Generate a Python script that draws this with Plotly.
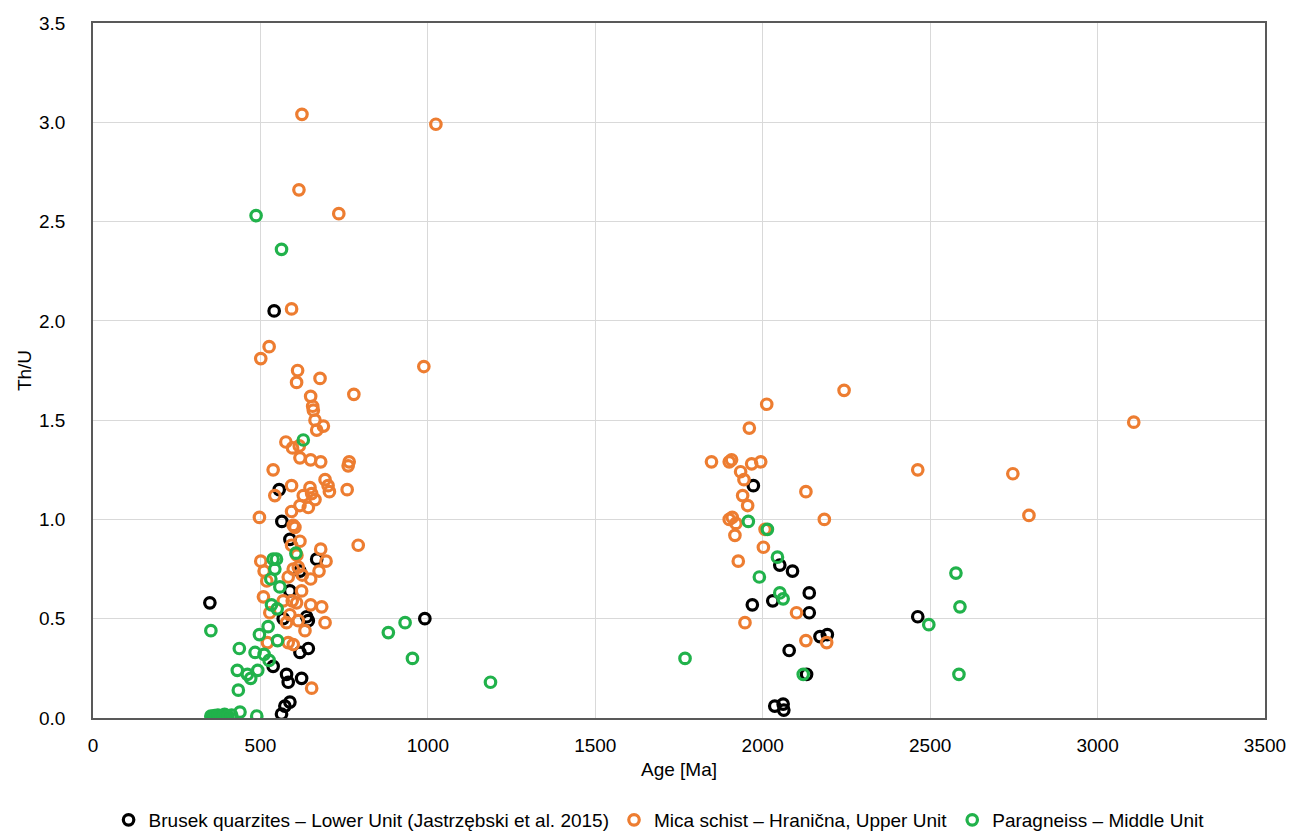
import plotly.graph_objects as go

# Brusek quarzites – Lower Unit
brusek_age = [349, 541, 556, 564, 588, 668, 618, 588, 568, 638, 643, 618, 643, 538, 578,
              583, 623, 588, 573, 563, 991, 1972, 2051, 2089, 2139, 1969, 2030, 2139, 2171,
              2193, 2079, 2131, 2036, 2061, 2063, 2463]
brusek_thu = [0.58, 2.05, 1.15, 0.99, 0.90, 0.80, 0.74, 0.64, 0.50, 0.51, 0.49, 0.33, 0.35, 0.26, 0.22,
              0.18, 0.20, 0.08, 0.06, 0.02, 0.50, 1.17, 0.77, 0.74, 0.63, 0.57, 0.59, 0.53, 0.41,
              0.42, 0.34, 0.22, 0.06, 0.07, 0.04, 0.51]

# Mica schist – Hranična, Upper Unit
mica_age = [624, 1024, 615, 734, 593, 526, 501, 611, 608, 678, 988, 779, 650, 656, 658, 663, 688, 668,
            576, 596, 616, 618, 650, 680, 765, 762, 538, 543, 593, 648, 693, 702, 706, 759, 628, 653,
            663, 618, 593, 643, 497, 598, 603, 593, 618, 680, 792, 696, 675, 650, 501, 511, 519, 583,
            598, 613, 623, 509, 568, 595, 650, 683, 608, 588, 578, 613, 633, 693, 521, 583, 598, 653,
            528, 609, 625,
            2243, 2012, 1960, 1847, 1900, 1907, 1967, 1994, 1934, 1944, 2129, 1940, 1955, 1909, 1900,
            1920, 2184, 2007, 1917, 2002, 1927, 2101, 1947, 2129, 2191, 2463, 2747, 2795, 3108]
mica_thu = [3.04, 2.99, 2.66, 2.54, 2.06, 1.87, 1.81, 1.75, 1.69, 1.71, 1.77, 1.63, 1.62, 1.57, 1.55, 1.50, 1.47, 1.45,
            1.39, 1.36, 1.37, 1.31, 1.30, 1.29, 1.29, 1.27, 1.25, 1.12, 1.17, 1.16, 1.20, 1.17, 1.14, 1.15, 1.12, 1.13,
            1.10, 1.07, 1.04, 1.06, 1.01, 0.97, 0.96, 0.87, 0.89, 0.85, 0.87, 0.79, 0.74, 0.70, 0.79, 0.74, 0.69, 0.71,
            0.75, 0.76, 0.64, 0.61, 0.59, 0.59, 0.57, 0.56, 0.58, 0.52, 0.48, 0.49, 0.44, 0.48, 0.38, 0.38, 0.37, 0.15,
            0.53, 0.82, 0.72,
            1.65, 1.58, 1.46, 1.29, 1.29, 1.30, 1.28, 1.29, 1.24, 1.20, 1.14, 1.12, 1.07, 1.01, 1.00,
            0.98, 1.00, 0.95, 0.92, 0.86, 0.79, 0.53, 0.48, 0.39, 0.38, 1.25, 1.23, 1.02, 1.49]

# Paragneiss – Middle Unit
para_age = [487, 563, 628, 606, 538, 548, 543, 531, 558, 533, 550, 352, 523, 497, 551, 437, 484, 511,
            526, 431, 461, 471, 492, 434, 439, 489, 414,
            352, 358, 363, 368, 373, 378, 383, 388, 393, 398, 403,
            882, 932, 954, 1187, 1768, 1957, 2014, 2044, 1990, 2051, 2061, 2121, 2577, 2589, 2496, 2586]
para_thu = [2.53, 2.36, 1.40, 0.83, 0.80, 0.80, 0.75, 0.70, 0.66, 0.57, 0.55, 0.44, 0.46, 0.42, 0.39, 0.35, 0.33, 0.32,
            0.29, 0.24, 0.22, 0.20, 0.24, 0.14, 0.03, 0.01, 0.015,
            0.01, 0.005, 0.012, 0.008, 0.015, 0.01, 0.005, 0.012, 0.018, 0.008, 0.01,
            0.43, 0.48, 0.30, 0.18, 0.30, 0.99, 0.95, 0.81, 0.71, 0.63, 0.60, 0.22, 0.73, 0.56, 0.47, 0.22]

names = ["Brusek quarzites – Lower Unit (Jastrzębski et al. 2015)",
         "Mica schist – Hranična, Upper Unit",
         "Paragneiss – Middle Unit"]
colors = ["#000000", "#ED7D31", "#21B24B"]
x_ticks = [0, 500, 1000, 1500, 2000, 2500, 3000, 3500]
y_ticks = [0.0, 0.5, 1.0, 1.5, 2.0, 2.5, 3.0, 3.5]

FONT = "Liberation Sans, Arial, sans-serif"

fig = go.Figure()
for xs, ys, nm, c in zip([brusek_age, mica_age, para_age], [brusek_thu, mica_thu, para_thu], names, colors):
    fig.add_trace(go.Scatter(
        x=xs, y=ys, mode="markers", name=nm,
        marker=dict(symbol="circle-open", size=10.5, color=c, line=dict(width=3.2, color=c)),
    ))

fig.update_layout(
    width=1290, height=832, autosize=False,
    margin=dict(l=93, r=25, t=23, b=114, autoexpand=False),
    paper_bgcolor="white", plot_bgcolor="white",
    font=dict(family=FONT, size=19, color="#000000"),
    legend=dict(orientation="h", x=0.483, xanchor="center",
                yref="container", y=1 - 820 / 832, yanchor="middle",
                font=dict(size=19), itemwidth=30, tracegroupgap=0),
    showlegend=True,
)
fig.update_xaxes(
    range=[0, 3500], tickvals=x_ticks, ticktext=[str(v) for v in x_ticks],
    showgrid=True, gridcolor="#D9D9D9", gridwidth=1.3, zeroline=False,
    showline=True, linecolor="#595959", linewidth=1.5, mirror=True, ticks="",
    ticklabelstandoff=9, automargin=False,
    title=dict(text="Age [Ma]", standoff=8, font=dict(size=19)),
)
fig.update_yaxes(
    range=[0, 3.5], tickvals=y_ticks, ticktext=[f"{v:.1f}" for v in y_ticks],
    showgrid=True, gridcolor="#D9D9D9", gridwidth=1.3, zeroline=False,
    showline=True, linecolor="#595959", linewidth=1.5, mirror=True, ticks="",
    ticklabelstandoff=22, automargin=False,
    title=dict(text="Th/U", standoff=2, font=dict(size=19)),
)

fig.write_html("out.html")
